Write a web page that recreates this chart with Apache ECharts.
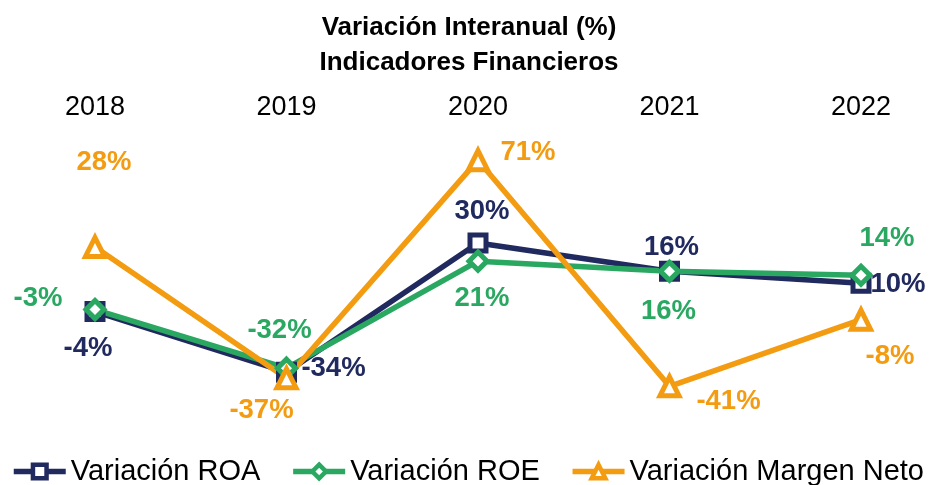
<!DOCTYPE html>
<html>
<head>
<meta charset="utf-8">
<script src="https://cdn.jsdelivr.net/npm/echarts@6/dist/echarts.min.js"></script>
<style>
html,body{margin:0;padding:0;background:#fff;}
#main{width:938px;height:485px;}
</style>
</head>
<body>
<div id="main"></div>
<script>
var years = ['2018', '2019', '2020', '2021', '2022'];
var roa = [-4, -34, 30, 16, 10];
var roe = [-3, -32, 21, 16, 14];
var margen = [28, -37, 71, -41, -8];

// desplazamiento de cada etiqueta respecto a su punto
var roaOffsets = [[-7, 37], [47, -4], [4, -32], [2, -24], [37, 1]];
var roeOffsets = [[-57, -11], [-7, -38], [4, 37], [-1, 40], [26, -37]];
var margenOffsets = [[9, -85], [-25, 32], [50, -8], [59, 15], [29, 37]];

var font = '"Liberation Sans", Arial, sans-serif';

function withLabels(values, offsets){
    var out = [];
    for (var i = 0; i < values.length; i++) {
        out.push({
            value: values[i],
            label: {offset: offsets[i]}
        });
    }
    return out;
}

function serie(name, values, offsets, color, symbol, size){
    return {
        name: name,
        type: 'line',
        data: withLabels(values, offsets),
        symbol: symbol,
        symbolSize: size,
        lineStyle: {color: color, width: 5.5},
        itemStyle: {color: '#fff', borderColor: color, borderWidth: 5},
        label: {
            show: true,
            position: 'inside',
            formatter: '{c}%',
            color: color,
            fontSize: 27.5,
            fontWeight: 'bold',
            fontFamily: font
        },
        emphasis: {disabled: true},
        animation: false
    };
}

var chart = echarts.init(document.getElementById('main'));
chart.setOption({
    backgroundColor: '#fff',
    title: {
        text: 'Variación Interanual (%)\nIndicadores Financieros',
        left: 'center',
        top: 5,
        textStyle: {
            fontSize: 26,
            fontWeight: 'bold',
            color: '#000',
            lineHeight: 35,
            fontFamily: font
        }
    },
    legend: {
        top: 452,
        left: 6,
        width: 932,
        itemWidth: 52,
        itemHeight: 17,
        itemGap: 30,
        lineStyle: {width: 5.5},
        itemStyle: {borderWidth: 4.5},
        textStyle: {fontSize: 29, color: '#000', fontFamily: font},
        data: ['Variación ROA', 'Variación ROE', 'Variación Margen Neto']
    },
    grid: {
        left: 95,
        right: 77,
        top: 142,
        bottom: 80.5,
        outerBoundsMode: 'none'
    },
    xAxis: {
        type: 'category',
        position: 'top',
        boundaryGap: false,
        data: years,
        axisLine: {show: false},
        axisTick: {show: false},
        splitLine: {show: false},
        axisLabel: {
            fontSize: 27,
            color: '#000',
            margin: 21,
            fontFamily: font
        }
    },
    yAxis: {
        type: 'value',
        min: -50,
        max: 80,
        show: false
    },
    series: [
        serie('Variación ROA', roa, roaOffsets, '#212a5e', 'rect', 16),
        serie('Variación ROE', roe, roeOffsets, '#2aa862', 'diamond', 18),
        serie('Variación Margen Neto', margen, margenOffsets, '#f39c12', 'triangle', 19)
    ]
});
</script>
</body>
</html>
